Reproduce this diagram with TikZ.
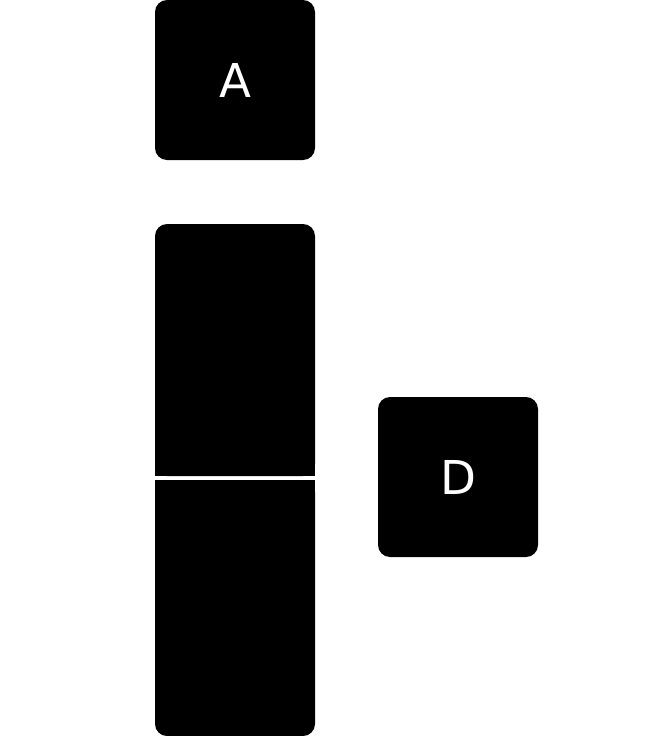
\documentclass[tikz,border=0pt]{standalone}
\usepackage{fontspec}
\setmainfont{DejaVu Sans}
\begin{document}
\begin{tikzpicture}[x=0.75pt,y=-0.75pt,
  blk/.style={fill=black,draw=none,rounded corners=9pt,inner sep=0pt,
    text=white,font=\fontsize{35}{40}\selectfont},
  sq/.style={fill=black,draw=none}]
\useasboundingbox (0,0) rectangle (660,736);
\node[blk,minimum width=120pt,minimum height=120pt] (A) at (235,80) {A};
\node[blk,minimum width=120pt,minimum height=120pt] (D) at (458,477) {D};
\node[blk,minimum width=120pt,minimum height=189pt] (B) at (235,350) {};
\path[sq] (B.south west) rectangle ([yshift=15pt]B.south east);
\node[blk,minimum width=120pt,minimum height=192pt] (C) at (235,608) {};
\path[sq] (C.north west) rectangle ([yshift=-15pt]C.north east);
\end{tikzpicture}
\end{document}
